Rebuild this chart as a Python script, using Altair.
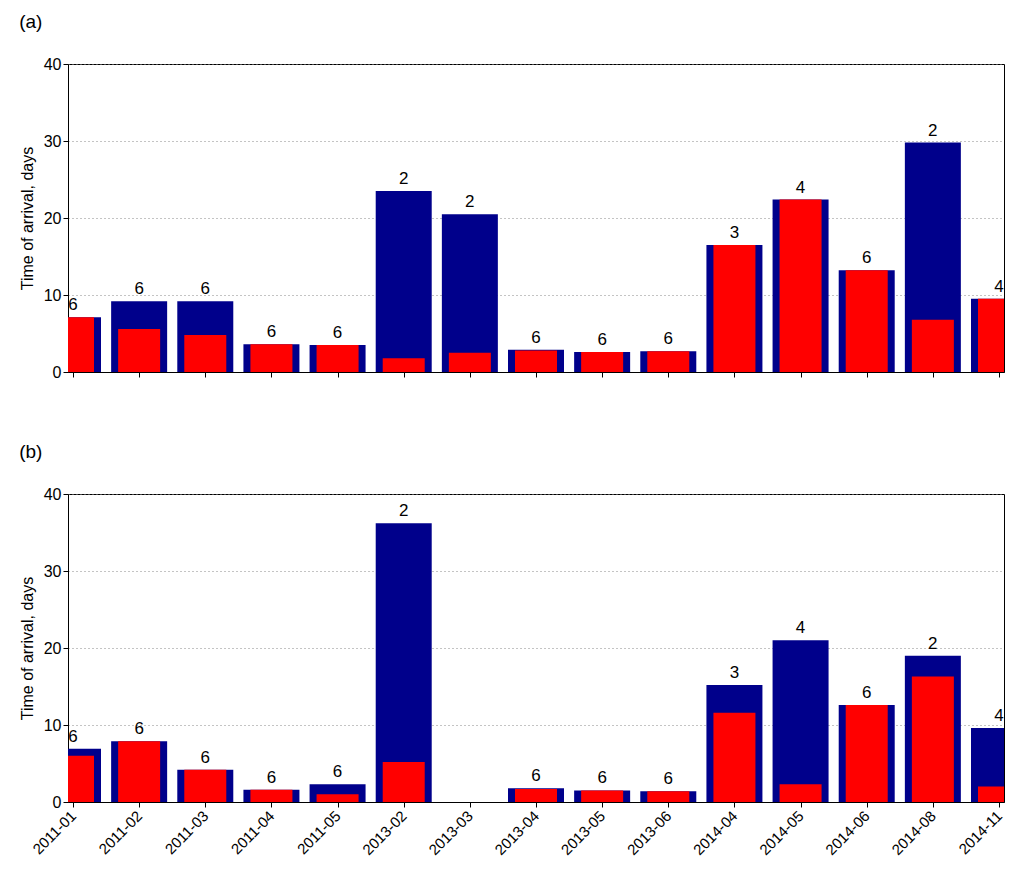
import altair as alt
import pandas as pd

months = ["2011-01", "2011-02", "2011-03", "2011-04", "2011-05", "2013-02", "2013-03",
          "2013-04", "2013-05", "2013-06", "2014-04", "2014-05", "2014-06", "2014-08", "2014-11"]

# panel (a)
blue_a = [7.1, 9.2, 9.2, 3.6, 3.5, 23.5, 20.5, 2.9, 2.6, 2.7, 16.5, 22.4, 13.2, 29.8, 9.5]
red_a = [7.1, 5.6, 4.8, 3.6, 3.5, 1.8, 2.5, 2.8, 2.6, 2.7, 16.5, 22.4, 13.2, 6.8, 9.5]
count_a = ["6", "6", "6", "6", "6", "2", "2", "6", "6", "6", "3", "4", "6", "2", "4"]

# panel (b)
blue_b = [6.9, 7.9, 4.2, 1.6, 2.3, 36.2, 0, 1.8, 1.5, 1.4, 15.2, 21.0, 12.6, 19.0, 9.6]
red_b = [6.0, 7.9, 4.2, 1.6, 1.0, 5.2, 0, 1.7, 1.5, 1.4, 11.6, 2.3, 12.6, 16.3, 2.0]
count_b = ["6", "6", "6", "6", "6", "2", "", "6", "6", "6", "3", "4", "6", "2", "4"]

label_expr = "[" + ",".join("'%s'" % m for m in months) + "][datum.value]"


def panel(blue, red, counts, tag, show_labels):
    df = pd.DataFrame({"i": range(len(months)), "blue": blue, "red": red, "n": counts})
    x = alt.X("i:Q", scale=alt.Scale(domain=[0, len(months) - 1], nice=False, zero=False),
              axis=alt.Axis(values=list(range(len(months))), labelExpr=label_expr,
                            labels=show_labels, labelAngle=-45, labelAlign="right",
                            labelBaseline="middle", labelFontSize=15, labelColor="black",
                            tickColor="black", domainColor="black", grid=False, title=None,
                            labelPadding=6))
    y = alt.Y("blue:Q", scale=alt.Scale(domain=[0, 40]),
              axis=alt.Axis(values=[0, 10, 20, 30, 40], title="Time of arrival, days",
                            titleFontSize=16, titleFontWeight="normal", labelFontSize=16,
                            labelColor="black", titleColor="black", tickColor="black",
                            domainColor="black", gridColor="#888", gridDash=[1, 3],
                            titlePadding=8))
    base = alt.Chart(df)
    b = base.mark_bar(color="#00008b", size=56, clip=True).encode(x=x, y=y)
    r = base.mark_bar(color="#ff0000", size=42, clip=True).encode(x="i:Q", y="red:Q")
    t = base.mark_text(dy=-12, fontSize=17, color="black").encode(x="i:Q", y="blue:Q", text="n:N")
    return alt.layer(b, r, t).properties(
        width=936, height=308,
        title=alt.TitleParams(tag, anchor="start", frame="bounds", fontSize=19,
                              fontWeight="normal", offset=24),
    )


chart = alt.vconcat(
    panel(blue_a, red_a, count_a, "(a)", False),
    panel(blue_b, red_b, count_b, "(b)", True),
    spacing=61,
).configure(font="Liberation Sans",
            padding={"left": 10, "top": 4, "right": 2, "bottom": 2}).configure_view(
    stroke="black", strokeWidth=1
)

chart.save("out.html", embed_options={"renderer": "svg", "actions": False})
